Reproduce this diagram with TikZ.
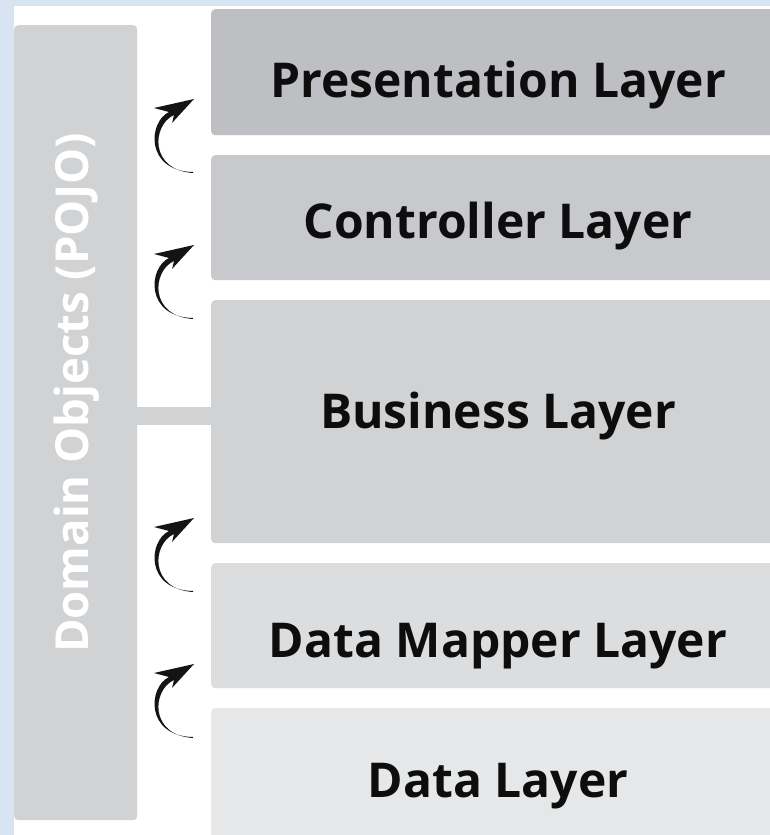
\documentclass[tikz,border=0pt]{standalone}
\usepackage{fontspec}
\setsansfont{Open Sans}
\usepackage{tikz}
\usetikzlibrary{positioning,arrows.meta,calc}
\definecolor{skyblue}{HTML}{D8E4F2}
\definecolor{presfill}{HTML}{BEBFC3}
\definecolor{ctrlfill}{HTML}{C8C9CC}
\definecolor{busfill}{HTML}{D1D2D4}
\definecolor{mapfill}{HTML}{DCDDDF}
\definecolor{datafill}{HTML}{E6E7E8}
\tikzset{
    layerbox/.style = {
        shape=rectangle,
        rounded corners=4pt,
        minimum width=575pt,
        anchor=north west,
        inner sep=0pt
    },
    domainbox/.style = {
        shape=rectangle,
        rounded corners=4pt,
        fill=busfill,
        minimum width=123pt,
        minimum height=795pt,
        anchor=north west,
        inner sep=0pt
    },
    layertext/.style = {
        anchor=base,
        inner sep=0pt,
        font=\sffamily\bfseries\fontsize{48}{52}\selectfont,
        text=black!95
    },
    % tapered hooked arrow, origin at its thin end
    bentarrow/.pic = {
        \fill[black!92] (0,0) .. controls (-48,-1) and (-45,-50) .. (-24,-60)
            -- (-39,-64) -- (1,-73) -- (-21,-49) -- (-19,-57)
            .. controls (-41,-47) and (-44,-2) .. (0,1) -- cycle;
    },
}
\begin{document}
\begin{tikzpicture}[x=1pt,y=-1pt]
            \useasboundingbox (0,0) rectangle (770,835);
            \clip (0,0) rectangle (770,835);
            \fill[skyblue] (0,0) rectangle (770,835);
            \fill[white] (14,6) rectangle (770,835);

            \node[domainbox] (dom) at (14,25) {};
            \node[layerbox, fill=presfill, minimum height=126pt] (pres) at (211,9) {};
            \node[layerbox, fill=ctrlfill, minimum height=125pt] (ctrl) at (211,155) {};
            \node[layerbox, fill=busfill, minimum height=243pt] (bus) at (211,300) {};
            \node[layerbox, fill=mapfill, minimum height=125pt] (map) at (211,563) {};
            \node[layerbox, fill=datafill, minimum height=140pt] (data) at (211,708) {};

            \node[layertext] (prestext) at (498,97) {Presentation Layer};
            \node[layertext] (ctrltext) at (498,238) {Controller Layer};
            \node[layertext] (bustext) at (498,428) {Business Layer};
            \node[layertext] (maptext) at (498,657) {Data Mapper Layer};
            \node[layertext] (datatext) at (498,797) {Data Layer};
            \node[rotate=90, inner sep=0pt, text=white,
                  font=\sffamily\bfseries\fontsize{45.5}{50}\selectfont]
                  (domtext) at (77,393) {Domain Objects (POJO)};

            % link between the domain objects and the business layer
            \path[draw, busfill, line width=18pt] (dom.east |- 0,416) -- (bus.west |- 0,416);

            \coordinate (up1from) at (193,172);
            \coordinate (up2from) at (193,318);
            \coordinate (up3from) at (193,591);
            \coordinate (up4from) at (193,737);

            \pic at (up1from) {bentarrow};
            \pic at (up2from) {bentarrow};
            \pic at (up3from) {bentarrow};
            \pic at (up4from) {bentarrow};
        \end{tikzpicture}
\end{document}
